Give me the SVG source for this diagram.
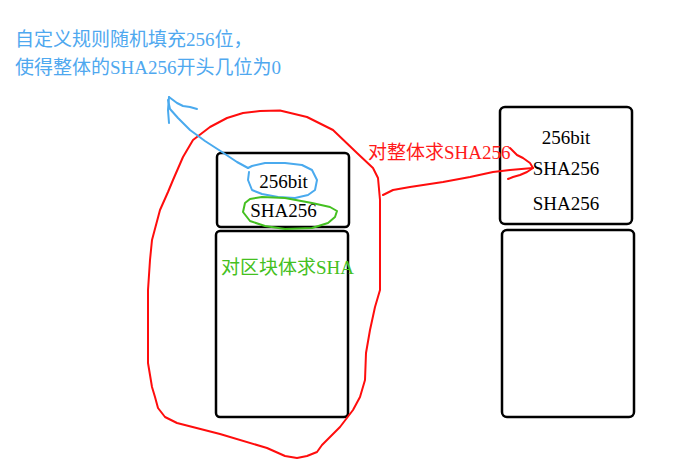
<svg xmlns="http://www.w3.org/2000/svg" width="691" height="465" viewBox="0 0 691 465">
<style>
  .box{fill:#fff;stroke:#000;stroke-width:2.5}
  .t{font-family:"Liberation Serif","Noto Sans CJK SC",serif;font-size:19px;fill:#000}
  .c{font-family:"Liberation Serif","Noto Sans CJK SC",sans-serif;font-size:19px}
  .ink{fill:none;stroke-width:2;stroke-linecap:round;stroke-linejoin:round}
  .red{stroke:#ff0d0d}
  .blue{stroke:#4aaaee}
  .green{stroke:#44c020}
</style>
<rect width="691" height="465" fill="#fff"/>
<g id="note">
  <text class="c" x="15" y="46" fill="#4fa8ef">自定义规则随机填充256位，</text>
  <text class="c" x="15" y="74" fill="#4fa8ef">使得整体的SHA256开头几位为0</text>
</g>
<g id="block1-header">
  <rect class="box" x="217" y="153" width="132" height="74" rx="4"/>
  <text class="t" x="283.5" y="188" text-anchor="middle">256bit</text>
  <text class="t" x="283.5" y="217" text-anchor="middle">SHA256</text>
</g>
<g id="block1-body">
  <rect class="box" x="216" y="231" width="132" height="186" rx="4"/>
  <text class="c" x="221" y="274" fill="#44c020">对区块体求SHA</text>
</g>
<g id="block2-header">
  <rect class="box" x="500" y="107" width="132" height="117" rx="5"/>
  <text class="t" x="566" y="144" text-anchor="middle">256bit</text>
  <text class="t" x="566" y="175" text-anchor="middle">SHA256</text>
  <text class="t" x="566" y="210" text-anchor="middle">SHA256</text>
</g>
<g id="block2-body">
  <rect class="box" x="502" y="230" width="132" height="187" rx="5"/>
</g>
<g id="connectors">
  <path class="ink red" d="M148,363 L148,290 L150,260 L152,240 L160,210 L168,192 L173,180 L183,157 L193,140 L210,127 L227,118 L243,113 L260,111 L280,110.5 L307,117 L333,130 L357,153 L373,168 L378,178 L380,200 L380,290 L375,307 L370,330 L366,353 L365,380 L360,397 L353,410 L340,427 L322,445 L317,452 L307,456 L297,458 L285,456 L267,448 L220,434 L177,423 L165,417 L158,408 L155,397 L152,387 Z"/>
  <path class="ink red" d="M383,195 L393,190 L410,187 L443,182 L470,177 L493,172 L510,170 L533,168"/>
  <path class="ink red" d="M510,148 L517,155 L523,158 L530,163 L533,168 L527,172 L520,175 L513,177 L508,179"/>
  <text class="c" x="368" y="159" fill="#ff1a1a">对整体求SHA256</text>
  <path class="ink blue" d="M248,168 L237,162 L222,152 L205,141 L190,130 L178,118 L170,109 L168,100"/>
  <path class="ink blue" d="M169,97 L168,110 L169,123"/>
  <path class="ink blue" d="M169,97 L177,103 L183,106 L190,107 L197,109"/>
  <path class="ink blue" d="M248,168 L252,166 L265,163 L285,163 L302,165 L312,170 L317,180 L315,190 L308,195 L295,198 L278,197 L262,194 L252,190 L248,180 L249,172"/>
  <path class="ink green" d="M245,203 L250,199 L262,197 L285,198 L312,203 L330,207 L337,211 L335,217 L328,223 L312,228 L285,229 L265,226 L250,221 L243,212 Z"/>
</g>
</svg>
